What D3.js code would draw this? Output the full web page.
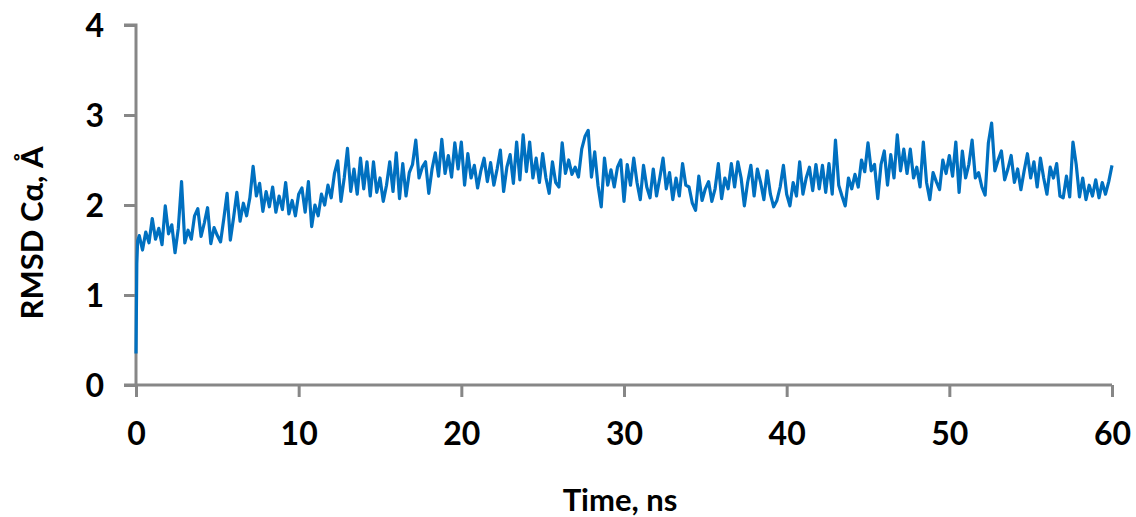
<!DOCTYPE html>
<html>
<head>
<meta charset="utf-8">
<script src="https://cdn.jsdelivr.net/npm/d3@7"></script>
<style>
  html, body { margin: 0; padding: 0; background: #fff; }
  svg { display: block; }
</style>
</head>
<body>
<svg id="chart" width="1136" height="517"></svg>
<script>
// first frames of the trajectory (fast initial rise)
const startTimes = [0, 0.05, 0.1]
const startRmsd = [0.35, 1.35, 1.6]

// RMSD read every 0.2 ns from t = 0.2 to 60 ns (one row per ns)
const timeStep = 0.2
const rmsd = [
  1.66, 1.50, 1.70, 1.58, 1.85,
  1.62, 1.74, 1.56, 1.99, 1.68,
  1.78, 1.47, 1.74, 2.26, 1.58,
  1.72, 1.62, 1.88, 1.96, 1.65,
  1.80, 1.97, 1.57, 1.75, 1.66,
  1.59, 1.85, 2.13, 1.61, 1.86,
  2.14, 1.82, 2.02, 1.88, 2.08,
  2.43, 2.10, 2.24, 1.93, 2.15,
  1.98, 2.20, 1.92, 2.10, 1.95,
  2.25, 1.90, 2.05, 1.88, 2.12,
  2.19, 1.92, 2.26, 1.76, 2.00,
  1.88, 2.12, 2.00, 2.22, 2.08,
  2.35, 2.49, 2.04, 2.30, 2.63,
  2.15, 2.40, 2.12, 2.52, 2.18,
  2.48, 2.10, 2.48, 2.14, 2.30,
  2.04, 2.22, 2.48, 2.15, 2.58,
  2.07, 2.46, 2.10, 2.36, 2.45,
  2.72, 2.30, 2.42, 2.48, 2.13,
  2.40, 2.58, 2.32, 2.73, 2.35,
  2.55, 2.31, 2.69, 2.40, 2.70,
  2.22, 2.57, 2.30, 2.44, 2.19,
  2.38, 2.52, 2.26, 2.47, 2.22,
  2.40, 2.61, 2.15, 2.42, 2.56,
  2.24, 2.70, 2.28, 2.78, 2.37,
  2.70, 2.30, 2.52, 2.25, 2.57,
  2.30, 2.13, 2.48, 2.25, 2.20,
  2.69, 2.35, 2.50, 2.34, 2.42,
  2.31, 2.62, 2.76, 2.83, 2.31,
  2.59, 2.22, 1.98, 2.52, 2.22,
  2.39, 2.20, 2.42, 2.50, 2.04,
  2.45, 2.22, 2.52, 2.25, 2.06,
  2.44, 2.20, 2.08, 2.40, 2.10,
  2.30, 2.52, 2.18, 2.36, 2.06,
  2.30, 2.10, 2.46, 2.22, 2.20,
  2.02, 1.94, 2.32, 2.05, 2.18,
  2.26, 2.04, 2.18, 2.46, 2.07,
  2.30, 2.18, 2.46, 2.20, 2.48,
  2.30, 1.99, 2.25, 2.44, 2.10,
  2.40, 2.25, 2.06, 2.38, 2.12,
  1.98, 2.05, 2.20, 2.44, 2.12,
  1.99, 2.25, 2.10, 2.48, 2.12,
  2.30, 2.42, 2.16, 2.45, 2.18,
  2.44, 2.14, 2.46, 2.12, 2.72,
  2.22, 2.10, 1.99, 2.30, 2.18,
  2.34, 2.20, 2.50, 2.37, 2.69,
  2.38, 2.45, 2.07, 2.45, 2.60,
  2.22, 2.56, 2.30, 2.78, 2.38,
  2.62, 2.35, 2.62, 2.30, 2.42,
  2.20, 2.70, 2.25, 2.06, 2.36,
  2.26, 2.17, 2.50, 2.35, 2.55,
  2.32, 2.70, 2.14, 2.60, 2.30,
  2.45, 2.72, 2.30, 2.36, 2.20,
  2.11, 2.69, 2.91, 2.38, 2.50,
  2.60, 2.28, 2.40, 2.55, 2.25,
  2.40, 2.17, 2.38, 2.57, 2.30,
  2.48, 2.20, 2.52, 2.30, 2.12,
  2.42, 2.30, 2.46, 2.10, 2.08,
  2.32, 2.09, 2.70, 2.45, 2.09,
  2.30, 2.06, 2.22, 2.10, 2.28,
  2.08, 2.25, 2.12, 2.26, 2.44
]

const xTicks = [0, 10, 20, 30, 40, 50, 60]
const yTicks = [0, 1, 2, 3, 4]

const LINE_COLOR = '#0070c0'
const AXIS_COLOR = '#878787'
const FONT = 'Lato, "Open Sans", sans-serif'

const points = startTimes.map((t, i) => ({ t, v: startRmsd[i] }))
  .concat(rmsd.map((v, i) => ({ t: +((i + 1) * timeStep).toFixed(2), v })))

const svg = d3.select('#chart')

const x = d3.scaleLinear().domain([0, 60]).range([136, 1112])
const y = d3.scaleLinear().domain([0, 4]).range([385, 25])

// y axis
const yAxis = svg.append('g')
  .attr('transform', `translate(${x(0)},0)`)
  .call(d3.axisLeft(y).tickValues(yTicks).tickSize(12).tickPadding(20).tickFormat(d3.format('d')))
yAxis.select('.domain').attr('stroke', AXIS_COLOR).attr('stroke-width', 3)
  .attr('d', `M-12,${y(4)}H0V${y(0)}`)
yAxis.selectAll('.tick line').attr('stroke', AXIS_COLOR).attr('stroke-width', 3)
yAxis.selectAll('.tick text')
  .attr('font-family', FONT).attr('font-size', 32).attr('font-weight', 700)
  .attr('fill', '#000').attr('dy', '0.36em')

// x axis
const xAxis = svg.append('g')
  .attr('transform', `translate(0,${y(0)})`)
  .call(d3.axisBottom(x).tickValues(xTicks).tickSize(12).tickPadding(25).tickFormat(d3.format('d')))
xAxis.select('.domain').attr('stroke', AXIS_COLOR).attr('stroke-width', 3)
  .attr('d', `M${x(0) - 12},0H${x(60)}`)
xAxis.selectAll('.tick line').attr('stroke', AXIS_COLOR).attr('stroke-width', 3)
xAxis.selectAll('.tick text')
  .attr('font-family', FONT).attr('font-size', 32).attr('font-weight', 700)
  .attr('fill', '#000').attr('dy', '0.71em')

// series
const line = d3.line().x(d => x(d.t)).y(d => y(d.v))
svg.append('path')
  .datum(points)
  .attr('fill', 'none')
  .attr('stroke', LINE_COLOR)
  .attr('stroke-width', 3.2)
  .attr('stroke-linejoin', 'round')
  .attr('d', line)

// axis titles
svg.append('text')
  .attr('x', 620).attr('y', 511)
  .attr('text-anchor', 'middle')
  .attr('font-family', FONT).attr('font-size', 31).attr('font-weight', 700)
  .text('Time, ns')

svg.append('text')
  .attr('transform', 'translate(43,233) rotate(-90)')
  .attr('text-anchor', 'middle')
  .attr('font-family', FONT).attr('font-size', 31).attr('font-weight', 700)
  .text('RMSD Cα, Å')
</script>
</body>
</html>
